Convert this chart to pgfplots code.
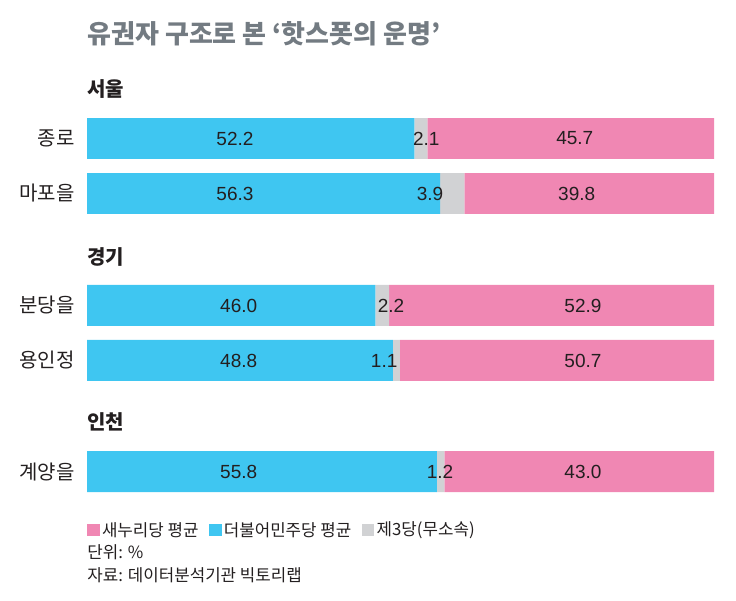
\documentclass[border=0pt]{standalone}
\usepackage{fontspec}
\setmainfont{Noto Sans CJK KR}
\newfontfamily\numfont{Liberation Sans}
\usepackage{pgfplots}
\pgfplotsset{compat=1.18}
\usepackage{pgfplotstable}

\definecolor{minju}{HTML}{3FC6F1}
\definecolor{gr3}{HTML}{D1D2D4}
\definecolor{saenuri}{HTML}{F087B3}
\definecolor{txt}{HTML}{231F20}
\definecolor{ttl}{HTML}{737B82}

\tikzset{
  head/.style={anchor=west, inner sep=0pt, text=txt, font=\bfseries\fontsize{10}{12}\selectfont},
  val/.style={inner sep=0pt, text=txt, font=\numfont\fontsize{9.5}{11}\selectfont},
  note/.style={anchor=west, inner sep=0pt, text=txt, font=\fontsize{8.4}{10}\selectfont}
}

% pos = row position (rows grouped by region, top to bottom), values in %
\pgfplotstableread{
pos    dem  oth  sae
0      52.2 2.1  45.7
-1     56.3 3.9  39.8
-3.036 46.0 2.2  52.9
-4.036 48.8 1.1  50.7
-6.055 55.8 1.2  43.0
}\vote

\begin{document}
\begin{tikzpicture}
\begin{axis}[
  name=ax,
  xbar stacked,
  scale only axis,
  width=313.5pt,
  height=222.75pt,
  xmin=0, xmax=100,
  ymin=-6.6, ymax=1.5,
  bar width=0.745,
  axis line style={draw=none},
  major tick length=0pt,
  xtick=\empty,
  ytick={0,-1,-3.036,-4.036,-6.055},
  yticklabels={종로,마포을,분당을,용인정,계양을},
  yticklabel style={font=\fontsize{10}{12}\selectfont, text=txt, xshift=-2.7pt},
]
\addplot[fill=minju, draw=none] table[x=dem, y=pos]{\vote};
\addplot[fill=gr3, draw=none] table[x=oth, y=pos]{\vote};
\addplot[fill=saenuri, draw=none] table[x=sae, y=pos]{\vote};

% region headings
\node[head] at (axis cs:0,0.9) {서울};
\node[head] at (axis cs:0,-2.155) {경기};
\node[head] at (axis cs:0,-5.155) {인천};

% anchors for the value labels (drawn after the axis, above the bars)
\coordinate (a1) at (axis cs:23.6,0);
\coordinate (b1) at (axis cs:54.1,0);
\coordinate (c1) at (axis cs:77.8,0);
\coordinate (a2) at (axis cs:23.6,-1);
\coordinate (b2) at (axis cs:54.7,-1);
\coordinate (c2) at (axis cs:78.1,-1);
\coordinate (a3) at (axis cs:24.2,-3.036);
\coordinate (b3) at (axis cs:48.5,-3.036);
\coordinate (c3) at (axis cs:79.1,-3.036);
\coordinate (a4) at (axis cs:24.2,-4.036);
\coordinate (b4) at (axis cs:47.4,-4.036);
\coordinate (c4) at (axis cs:79.1,-4.036);
\coordinate (a5) at (axis cs:24.2,-6.055);
\coordinate (b5) at (axis cs:56.3,-6.055);
\coordinate (c5) at (axis cs:79.1,-6.055);
\end{axis}

\node[val] at (a1) {52.2};
\node[val] at (b1) {2.1};
\node[val] at (c1) {45.7};
\node[val] at (a2) {56.3};
\node[val] at (b2) {3.9};
\node[val] at (c2) {39.8};
\node[val] at (a3) {46.0};
\node[val] at (b3) {2.2};
\node[val] at (c3) {52.9};
\node[val] at (a4) {48.8};
\node[val] at (b4) {1.1};
\node[val] at (c4) {50.7};
\node[val] at (a5) {55.8};
\node[val] at (b5) {1.2};
\node[val] at (c5) {43.0};

% title
\node[anchor=west, inner sep=0pt, yshift=11pt, text=ttl, font=\bfseries\fontsize{13}{15}\selectfont]
  at (ax.north west) {유권자 구조로 본 ‘핫스폿의 운명’};

% legend and notes
\fill[saenuri] ([yshift=-17.5pt]ax.south west) rectangle ([xshift=6.3pt,yshift=-11.3pt]ax.south west);
\node[note] (l1) at ([xshift=7.3pt,yshift=-14.25pt]ax.south west) {새누리당 평균};
\fill[minju] ([xshift=5pt,yshift=-3.25pt]l1.east) rectangle ([xshift=11.3pt,yshift=2.95pt]l1.east);
\node[note] (l2) at ([xshift=12.3pt]l1.east) {더불어민주당 평균};
\fill[gr3] ([xshift=5pt,yshift=-3.25pt]l2.east) rectangle ([xshift=11.3pt,yshift=2.95pt]l2.east);
\node[note] at ([xshift=12.3pt]l2.east) {제3당(무소속)};
\node[note] at ([yshift=-25.25pt]ax.south west) {단위: \%};
\node[note] at ([yshift=-37pt]ax.south west) {자료: 데이터분석기관 빅토리랩};
\path ([xshift=-43.5pt,yshift=-49.75pt]ax.south west) rectangle ([xshift=11pt,yshift=28pt]ax.north east);
\end{tikzpicture}
\end{document}
